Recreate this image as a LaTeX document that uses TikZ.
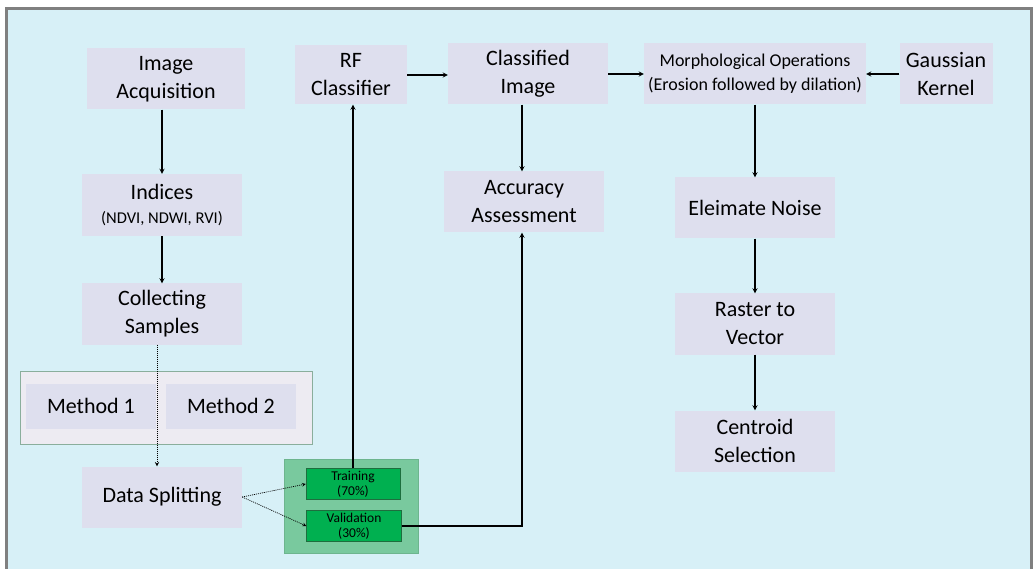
\documentclass[tikz,border=0pt]{standalone}
\usepackage{fontspec}
\setmainfont{Carlito}
\usepackage{tikz}
\definecolor{bgblue}{HTML}{D7F0F7}
\definecolor{boxlav}{HTML}{DEDFEE}
\definecolor{methfill}{HTML}{EDEBF2}
\definecolor{methline}{HTML}{8AAE9C}
\definecolor{grpgreen}{HTML}{79C99E}
\definecolor{splitgreen}{HTML}{00B050}
\definecolor{splitline}{HTML}{1E6E3E}
\tikzstyle{box} = [rectangle, fill=boxlav, align=center, inner sep=0pt, minimum width=160pt, minimum height=61pt, font=\fontsize{22}{28}\selectfont]
\tikzstyle{mbox} = [rectangle, fill=boxlav, align=center, inner sep=0pt, minimum width=130pt, minimum height=45pt, font=\fontsize{22}{28}\selectfont]
\tikzstyle{sbox} = [rectangle, fill=splitgreen, draw=splitline, align=center, inner sep=0pt, minimum width=95pt, minimum height=31pt, font=\fontsize{13.5}{15}\selectfont]
\tikzstyle{arr} = [-stealth, line width=1.2pt]
\tikzstyle{darr} = [-stealth, line width=0.9pt, dash pattern=on 1pt off 1pt]

\begin{document}
\begin{tikzpicture}[x=1pt, y=-1pt]
\useasboundingbox (0,0) rectangle (1033,569);
\fill[white] (0,0) rectangle (1033,569);
\fill[gray] (5,7) rectangle (1033,569);
\fill[bgblue] (8,10) rectangle (1030,569);
% left column
\node(acq)[box, minimum width=158pt] at (166,79) {Image\\Acquisition};
\node(ind)[box, minimum height=62pt] at (162,205) {Indices\\[-4pt]{\fontsize{16.5}{20}\selectfont (NDVI, NDWI, RVI)}};
\node(col)[box] at (162,314) {Collecting\\Samples};
\node(meth)[rectangle, fill=methfill, draw=methline, minimum width=292pt, minimum height=73pt] at (166,408) {};
\node(m1)[mbox] at (91,406) {Method 1};
\node(m2)[mbox] at (231,406) {Method 2};
\node(split)[box] at (162,497) {Data Splitting};
% split group
\node(grp)[rectangle, fill=grpgreen, draw=grpgreen!90!black, minimum width=134pt, minimum height=94pt] at (351,506) {};
\node(train)[sbox, minimum width=94pt] at (353,484) {Training\\(70\%)};
\node(val)[sbox] at (354,526) {Validation\\(30\%)};
% top row
\node(rf)[box, minimum width=112pt, minimum height=59pt] at (351,75) {RF\\Classifier};
\node(cls)[box] at (528,74) {Classified\\Image};
\node(acc)[box] at (524,202) {Accuracy\\Assessment};
\node(morph)[box, minimum width=222pt, font=\fontsize{18}{24}\selectfont] at (755,74) {Morphological Operations\\(Erosion followed by dilation)};
\node(gauss)[box, minimum width=93pt] at (946,74) {Gaussian\\Kernel};
% right column
\node(noise)[box] at (755,208) {Eleimate Noise};
\node(rast)[box] at (755,324) {Raster to\\Vector};
\node(cent)[box] at (755,441) {Centroid\\Selection};

\draw[arr] (ind.north |- acq.south) -- (ind.north);
\draw[arr] (ind.south) -- (col.north);
\draw[darr] ([xshift=-5pt]col.south) -- ([xshift=-5pt]split.north);
\draw[darr, line width=0.7pt] (split.east) -- (train.west);
\draw[darr, line width=0.7pt] (split.east) -- (val.west);
\draw[arr] (train.north) -- (train.north |- rf.south);
\draw[arr] (val.east) -- ([xshift=-2pt]val.east -| acc.south) -- ([xshift=-2pt]acc.south);
\draw[arr] (rf.east) -- (rf.east -| cls.west);
\draw[arr] ([xshift=-6pt]cls.south) -- ([xshift=-2pt]acc.north);
\draw[arr] (cls.east) -- (morph.west);
\draw[arr] (gauss.west) -- (morph.east);
\draw[arr] (morph.south) -- (noise.north);
\draw[arr] (noise.south) -- (rast.north);
\draw[arr] (rast.south) -- (cent.north);
\end{tikzpicture}
\end{document}
